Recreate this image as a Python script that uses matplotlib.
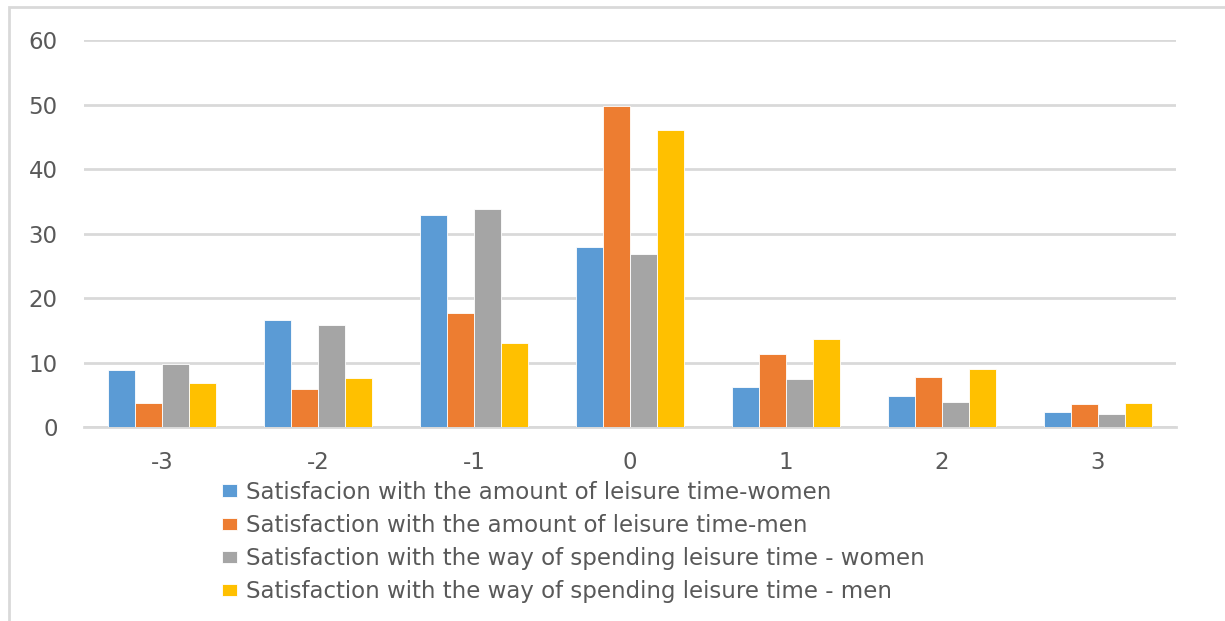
import numpy as np
import matplotlib
matplotlib.use("Agg")
import matplotlib.pyplot as plt
from matplotlib.patches import Rectangle

# satisfaction scale and the share (%) answering each value
scale = [-3, -2, -1, 0, 1, 2, 3]
amount_women = [8.8, 16.6, 32.9, 27.9, 6.3, 4.8, 2.3]
amount_men = [3.8, 5.9, 17.7, 49.8, 11.3, 7.8, 3.6]
way_women = [9.8, 15.8, 33.8, 26.9, 7.5, 3.9, 2.1]
way_men = [6.8, 7.6, 13.0, 46.1, 13.7, 9.0, 3.7]

labels = ["Satisfacion with the amount of leisure time-women",
          "Satisfaction with the amount of leisure time-men",
          "Satisfaction with the way of spending leisure time - women",
          "Satisfaction with the way of spending leisure time - men"]
colors = ["#5B9BD5", "#ED7D31", "#A5A5A5", "#FFC000"]
series = [amount_women, amount_men, way_women, way_men]

W, H = 1225, 621
fig = plt.figure(figsize=(W/100, H/100), dpi=100)
ax = fig.add_axes([84/W, 1-427.3/H, (1176-84)/W, (427.3-40)/H])

x = np.arange(len(scale))
bw = 0.174
for i, (vals, lab, col) in enumerate(zip(series, labels, colors)):
    ax.bar(x + (i-1.5)*bw, vals, width=bw, color=col, label=lab,
           edgecolor="white", linewidth=0.6, zorder=3)

ax.set_xlim(-0.5, len(scale)-0.5)
ax.set_ylim(0, 60)
ax.set_yticks(range(0, 61, 10))
ax.set_xticks(x)
ax.set_xticklabels([str(s) for s in scale])
ax.yaxis.grid(True, color="#D9D9D9", linewidth=2, zorder=0)
ax.set_axisbelow(True)
for s in ["top", "right", "left"]:
    ax.spines[s].set_visible(False)
ax.spines["bottom"].set_color("#D9D9D9")
ax.spines["bottom"].set_linewidth(2)
ax.tick_params(axis="both", length=0, labelsize=16.5, colors="#595959")
ax.tick_params(axis="y", pad=19)
ax.tick_params(axis="x", pad=17)

fig.legend(loc="upper left", bbox_to_anchor=(221.5/W, 1-481/H), frameon=False,
           fontsize=16.5, labelcolor="#595959", handlelength=0.655,
           handleheight=0.48, handletextpad=0.42, labelspacing=0.44,
           borderpad=0, borderaxespad=0)

# light frame round the chart area
fig.patches.append(Rectangle((9/W, -0.05), 1.1, 1-7/H+0.05, transform=fig.transFigure,
                             fill=False, edgecolor="#D9D9D9", linewidth=2))

fig.savefig("out.png", dpi=100)
